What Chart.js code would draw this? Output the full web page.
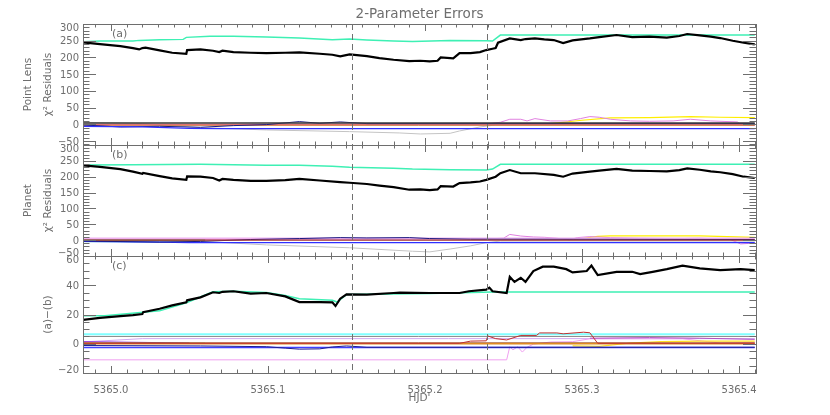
<!DOCTYPE html>
<html>
<head>
<meta charset="utf-8">
<script src="https://cdn.jsdelivr.net/npm/chart.js@4.4.0/dist/chart.umd.min.js"></script>
<style>
  html, body { margin: 0; padding: 0; background: #fff; }
  #wrap { width: 830px; height: 415px; }
</style>
</head>
<body>
<div id="wrap"><canvas id="chart" width="830" height="415"></canvas></div>
<script>
// x range (HJD') and the two vertical markers
const hjdRange = [5364.9822, 5365.4108]
const markerHJD = [5365.1535, 5365.2393]
const panelLabels = ["(a)", "(b)", "(c)"]
const hjdFull = [5364.982, 5365.410]

// --- panel (a): point lens residuals ---
const hjdBlackA = [5364.982, 5364.993, 5365.006, 5365.014, 5365.018, 5365.020, 5365.022, 5365.031, 5365.039, 5365.048, 5365.0485, 5365.057, 5365.065, 5365.069, 5365.071, 5365.078, 5365.089, 5365.099, 5365.111, 5365.120, 5365.133, 5365.141, 5365.146, 5365.152, 5365.163, 5365.171, 5365.180, 5365.190, 5365.197, 5365.203, 5365.208, 5365.210, 5365.218, 5365.222, 5365.229, 5365.235, 5365.239, 5365.243, 5365.245, 5365.2465, 5365.254, 5365.261, 5365.264, 5365.270, 5365.276, 5365.282, 5365.288, 5365.294, 5365.305, 5365.311, 5365.322, 5365.332, 5365.343, 5365.354, 5365.362, 5365.367, 5365.375, 5365.382, 5365.388, 5365.396, 5365.403, 5365.410]
const chiBlackA = [245, 240, 234, 228, 224, 228, 229, 221, 214, 211, 222, 224, 220, 216, 220, 216, 214, 213, 214, 215, 211, 208, 203, 209, 204, 198, 193, 189, 190, 188, 190, 200, 197, 213, 213, 216, 222, 226, 228, 244, 257, 252, 255, 257, 254, 252, 243, 251, 257, 261, 267, 261, 262, 259, 264, 270, 266, 262, 258, 250, 244, 239]
const hjdAquaA = [5364.982, 5364.993, 5365.014, 5365.018, 5365.031, 5365.046, 5365.048, 5365.063, 5365.078, 5365.099, 5365.120, 5365.141, 5365.152, 5365.163, 5365.180, 5365.192, 5365.216, 5365.239, 5365.243, 5365.248, 5365.410]
const chiAquaA = [247, 249, 249, 251, 253, 254, 260, 263, 263, 261, 258, 253, 255, 252, 249, 248, 251, 250, 249, 267, 267]
const darkA = [4, 4]
const redA = [-1, -1]
const orangeA = [-3, -3]
const hjdBlueA = [5364.982, 5365.020, 5365.050, 5365.070, 5365.410]
const blueA = [-6, -8, -12, -13, -13]
const hjdNavyA = [5364.982, 5365.006, 5365.031, 5365.057, 5365.078, 5365.099, 5365.120, 5365.133, 5365.146, 5365.163, 5365.410]
const navyA = [-2, -8, -6, -9, -4, -1, 8, 3, 7, 2, 2]
const hjdGreyA = [5364.982, 5365.020, 5365.057, 5365.099, 5365.152, 5365.184, 5365.197, 5365.216, 5365.222, 5365.235, 5365.245, 5365.410]
const greyA = [6, 2, -10, -17, -22, -26, -29, -27, -20, -8, -2, -2]
const hjdPinkA = [5364.982, 5365.200, 5365.239, 5365.248, 5365.254, 5365.261, 5365.265, 5365.270, 5365.280, 5365.291, 5365.299, 5365.305, 5365.311, 5365.318, 5365.331, 5365.343, 5365.358, 5365.369, 5365.382, 5365.399, 5365.401, 5365.410]
const pinkA = [-1, 0, 1, 6, 15, 15, 10, 17, 10, 10, 17, 23, 21, 15, 10, 9, 10, 15, 10, 7, -2, -3]
const hjdYellowA = [5365.280, 5365.300, 5365.318, 5365.343, 5365.369, 5365.388, 5365.410]
const yellowA = [2, 12, 19, 20, 23, 21, 20]

// --- panel (b): planet residuals ---
const hjdBlackB = [5364.982, 5364.993, 5365.006, 5365.014, 5365.020, 5365.0205, 5365.031, 5365.039, 5365.048, 5365.0485, 5365.057, 5365.065, 5365.069, 5365.071, 5365.078, 5365.089, 5365.099, 5365.111, 5365.120, 5365.133, 5365.146, 5365.152, 5365.163, 5365.171, 5365.180, 5365.190, 5365.197, 5365.203, 5365.208, 5365.210, 5365.218, 5365.222, 5365.229, 5365.235, 5365.239, 5365.245, 5365.248, 5365.254, 5365.261, 5365.270, 5365.282, 5365.288, 5365.294, 5365.305, 5365.311, 5365.322, 5365.332, 5365.343, 5365.354, 5365.362, 5365.367, 5365.375, 5365.382, 5365.388, 5365.396, 5365.403, 5365.410]
const chiBlackB = [236, 231, 224, 216, 209, 212, 202, 195, 190, 201, 200, 196, 188, 193, 190, 187, 187, 189, 193, 188, 183, 181, 177, 172, 167, 159, 160, 158, 160, 170, 169, 180, 182, 185, 190, 200, 211, 221, 211, 211, 206, 200, 210, 216, 219, 225, 219, 218, 217, 221, 226, 222, 217, 214, 208, 200, 196]
const hjdAquaB = [5364.982, 5365.014, 5365.057, 5365.099, 5365.120, 5365.141, 5365.152, 5365.180, 5365.192, 5365.216, 5365.239, 5365.243, 5365.248, 5365.410]
const chiAquaB = [237, 238, 239, 236, 236, 233, 230, 227, 224, 222, 221, 224, 239, 239]
const lavB = [5.5, 5.5]
const redB = [0, 0]
const hjdNavyB = [5364.982, 5365.031, 5365.057, 5365.089, 5365.120, 5365.146, 5365.163, 5365.190, 5365.203, 5365.229, 5365.410]
const navyB = [-3, -6, -4, 2, 5, 8, 7, 8, 5, 3, 2]
const hjdBlueB = [5364.982, 5365.031, 5365.050, 5365.410]
const blueB = [-4, -6, -8, -8]
const hjdGreyB = [5364.982, 5365.057, 5365.099, 5365.152, 5365.192, 5365.203, 5365.216, 5365.229, 5365.239, 5365.248, 5365.410]
const greyB = [3, -4, -15, -24, -35, -37, -28, -18, -8, -3, -3]
const hjdCyanB = [5364.982, 5365.057]
const cyanB = [-5, -7]
const hjdGreenB = [5364.982, 5365.060]
const greenB = [0, 0]
const hjdPinkB = [5364.982, 5365.239, 5365.250, 5365.254, 5365.261, 5365.269, 5365.276, 5365.284, 5365.292, 5365.297, 5365.305, 5365.318, 5365.337, 5365.362, 5365.375, 5365.394, 5365.401, 5365.410]
const pinkB = [2, 4, 6, 18, 13, 10, 9, 6, 1, 8, 11, 8, 6, 5, 6, 3, -12, -9]
const hjdYellowB = [5365.295, 5365.310, 5365.318, 5365.350, 5365.375, 5365.410]
const yellowB = [2, 12, 13.5, 13.5, 13.5, 9]

// --- panel (c): (a)-(b) ---
const hjdBlackC = [5364.982, 5364.993, 5365.006, 5365.014, 5365.020, 5365.0205, 5365.031, 5365.039, 5365.048, 5365.0485, 5365.057, 5365.065, 5365.069, 5365.071, 5365.078, 5365.089, 5365.099, 5365.111, 5365.120, 5365.133, 5365.141, 5365.143, 5365.146, 5365.150, 5365.163, 5365.180, 5365.184, 5365.203, 5365.222, 5365.228, 5365.239, 5365.241, 5365.243, 5365.252, 5365.254, 5365.257, 5365.261, 5365.264, 5365.269, 5365.275, 5365.282, 5365.290, 5365.294, 5365.303, 5365.306, 5365.310, 5365.322, 5365.332, 5365.337, 5365.345, 5365.354, 5365.364, 5365.375, 5365.388, 5365.401, 5365.410]
const chiBlackC = [16.3, 17.7, 18.9, 19.6, 20.3, 21.6, 23.9, 26.2, 28.3, 29.7, 31.7, 35.2, 34.7, 35.5, 35.9, 34.3, 34.7, 32.4, 28.5, 28.5, 28.3, 25.8, 30.8, 33.8, 33.6, 34.7, 35.0, 34.7, 34.7, 35.9, 37.0, 38.4, 35.9, 34.7, 45.8, 42.3, 45.1, 42.3, 49.7, 52.7, 52.7, 51.0, 48.8, 49.7, 53.4, 46.9, 49.2, 49.2, 47.6, 49.2, 51.0, 53.4, 51.5, 50.3, 51.0, 50.3]
const hjdAquaC = [5364.982, 5364.996, 5365.031, 5365.048, 5365.065, 5365.078, 5365.099, 5365.111, 5365.120, 5365.141, 5365.144, 5365.150, 5365.163, 5365.203, 5365.243, 5365.410]
const chiAquaC = [19.1, 19.1, 22.5, 28.0, 35.6, 35.9, 35.0, 33.0, 30.8, 29.7, 28.5, 33.6, 33.8, 34.4, 35.4, 35.4]
const cyanC = [6.5, 6.5]
const greyC = [5, 5]
const orangeC = [0, 0]
const brownC = [0.6, 0.6]
const blueC = [-2.6, -2.6]
const hjdLavC = [5364.982, 5365.020, 5365.410]
const lavC = [1.2, 3.5, 3.5]
const hjdPurpleC = [5364.982, 5365.050]
const purpleC = [1.5, 0.5]
const hjdGreenC = [5364.982, 5365.060]
const greenC = [0.3, 0.3]
const hjdRedC = [5364.982, 5365.222, 5365.229, 5365.239, 5365.240, 5365.245, 5365.252, 5365.261, 5365.271, 5365.273, 5365.284, 5365.288, 5365.301, 5365.305, 5365.310, 5365.410]
const redC = [0.3, 0.3, 1.8, 2.0, 5.3, 3.5, 2.6, 5.7, 5.7, 7.4, 7.4, 6.8, 7.9, 7.5, 0.3, 0.3]
const hjdPinkC = [5364.982, 5365.252, 5365.254, 5365.256, 5365.259, 5365.262, 5365.265, 5365.269, 5365.280, 5365.294, 5365.305, 5365.331, 5365.364, 5365.388, 5365.410]
const pinkC = [-11, -11, -2, -4.2, -2, -5.7, -2.4, -0.3, 1.2, 1.4, 3.4, 3.4, 3.4, 0.5, 1.0]
const hjdNavyC = [5364.982, 5365.057, 5365.099, 5365.111, 5365.120, 5365.133, 5365.141, 5365.150, 5365.163, 5365.410]
const navyC = [-1.2, -1.5, -2, -3, -3.7, -3.5, -2.2, -1.5, -2.4, -2.4]
const hjdVioletC = [5365.305, 5365.343, 5365.375, 5365.410]
const violetC = [3.8, 4.2, 3.8, 3.0]
const hjdYellowC = [5365.294, 5365.311, 5365.331, 5365.350, 5365.375, 5365.410]
const yellowC = [-1.5, -1.8, 0.5, 1.5, 1.8, 1.8]

const FONT = '"DejaVu Sans", sans-serif'
const INK = "#6e6e6e"
const AQUA = "#3ef0b4"

function series(xs, ys) {
  return xs.map((x, i) => ({ x: x, y: ys[i] }))
}

function line(axis, xs, ys, color, width) {
  return {
    yAxisID: axis,
    data: series(xs, ys),
    borderColor: color,
    borderWidth: width || 1,
    pointRadius: 0,
    fill: false
  }
}

// first dataset is painted on top
const datasets = [
  line("ya", hjdBlackA, chiBlackA, "#000", 2.2),
  line("yb", hjdBlackB, chiBlackB, "#000", 2.2),
  line("yc", hjdBlackC, chiBlackC, "#000", 2.2),
  line("ya", hjdAquaA, chiAquaA, AQUA, 1.5),
  line("yb", hjdAquaB, chiAquaB, AQUA, 1.5),
  line("yc", hjdAquaC, chiAquaC, AQUA, 1.5),

  line("ya", hjdFull, darkA, "#3a3a3a", 1.5),
  line("ya", hjdBlueA, blueA, "#3030ff", 1.2),
  line("ya", hjdNavyA, navyA, "#1a1a80", 1),
  line("ya", hjdFull, redA, "#e07070", 1.5),
  line("ya", hjdFull, orangeA, "#c8742a", 1),
  line("ya", hjdPinkA, pinkA, "#e080e0", 1),
  line("ya", hjdYellowA, yellowA, "#ffee00", 1.2),
  line("ya", hjdGreyA, greyA, "#c4c4c4", 1),

  line("yb", hjdFull, redB, "#a03030", 1.2),
  line("yb", hjdNavyB, navyB, "#1a1a80", 1),
  line("yb", hjdBlueB, blueB, "#3030ff", 1.2),
  line("yb", hjdGreenB, greenB, "#30a030", 1),
  line("yb", hjdCyanB, cyanB, "#80e0e0", 1),
  line("yb", hjdFull, lavB, "#f0b0f0", 2),
  line("yb", hjdPinkB, pinkB, "#e080e0", 1),
  line("yb", hjdYellowB, yellowB, "#ffee00", 1.2),
  line("yb", hjdGreyB, greyB, "#c4c4c4", 1),

  line("yc", hjdNavyC, navyC, "#202090", 1),
  line("yc", hjdFull, blueC, "#4040ff", 1.5),
  line("yc", hjdRedC, redC, "#c03030", 1),
  line("yc", hjdFull, orangeC, "#e08a20", 1.5),
  line("yc", hjdFull, brownC, "#a05020", 1),
  line("yc", hjdGreenC, greenC, "#40d040", 1),
  line("yc", hjdPurpleC, purpleC, "#9a40e0", 1),
  line("yc", hjdYellowC, yellowC, "#ffe020", 1.2),
  line("yc", hjdVioletC, violetC, "#b050c0", 1),
  line("yc", hjdPinkC, pinkC, "#f0a0f0", 1),
  line("yc", hjdLavC, lavC, "#d0a8f0", 1),
  line("yc", hjdFull, greyC, "#8a8a8a", 1),
  line("yc", hjdFull, cyanC, "#80ffff", 2)
]

const panels = [
  { id: "ya", major: 50, minor: 10, title: ["Point Lens", "\u03c7\u00b2 Residuals"] },
  { id: "yb", major: 50, minor: 10, title: ["Planet", "\u03c7\u00b2 Residuals"] },
  { id: "yc", major: 20, minor: 5, title: ["(a)\u2212(b)"] }
]

function fmt(v) {
  return v < 0 ? "\u2212" + Math.abs(v) : String(v)
}

// IDL-style frame: boxes, inward ticks, labels, dashed markers
const idlFrame = {
  id: "idlFrame",
  afterDraw(chart) {
    const ctx = chart.ctx
    const xs = chart.scales.x
    const left = xs.left, right = xs.right
    ctx.save()
    ctx.strokeStyle = INK
    ctx.fillStyle = INK
    ctx.lineWidth = 1

    panels.forEach((p, i) => {
      const s = chart.scales[p.id]
      const top = Math.round(s.top), bottom = Math.round(s.bottom)
      ctx.strokeRect(Math.round(left) + 0.5, top + 0.5, Math.round(right - left), bottom - top)

      ctx.beginPath()
      // x ticks on top and bottom edge
      for (let k = Math.ceil(xs.min * 100); k <= Math.floor(xs.max * 100); k++) {
        const px = Math.round(xs.getPixelForValue(k / 100)) + 0.5
        const len = k % 10 === 0 ? 7 : 3.5
        ctx.moveTo(px, bottom); ctx.lineTo(px, bottom - len)
        ctx.moveTo(px, top); ctx.lineTo(px, top + len)
      }
      // y ticks on left and right edge
      for (let v = Math.ceil(s.min / p.minor) * p.minor; v <= s.max + 1e-9; v += p.minor) {
        const py = Math.round(s.getPixelForValue(v)) + 0.5
        const len = Math.abs(v % p.major) < 1e-9 ? 13 : 6.5
        ctx.moveTo(left, py); ctx.lineTo(left + len, py)
        ctx.moveTo(right, py); ctx.lineTo(right - len, py)
      }
      ctx.stroke()

      // y tick labels, nudged inward at the panel edges
      ctx.font = "10px " + FONT
      ctx.textAlign = "right"
      ctx.textBaseline = "middle"
      for (let v = Math.ceil(s.min / p.major) * p.major; v <= s.max + 1e-9; v += p.major) {
        let py = s.getPixelForValue(v) + 1
        if (py - s.top < 4) py = s.top + 4
        if (s.bottom - py < 4) py = s.bottom - 3
        ctx.fillText(fmt(v), left - 4, py)
      }

      // panel letter
      ctx.font = "11px " + FONT
      ctx.textAlign = "left"
      ctx.fillText(panelLabels[i], 112, s.top + 10)

      // rotated axis titles
      ctx.font = "10.5px " + FONT
      ctx.textAlign = "center"
      const cy = (s.top + s.bottom) / 2
      const xsTitle = p.title.length === 2 ? [28, 48] : [48]
      p.title.forEach((t, j) => {
        ctx.save()
        ctx.translate(xsTitle[j], cy)
        ctx.rotate(-Math.PI / 2)
        ctx.fillText(t, 0, 0)
        ctx.restore()
      })
    })

    // dashed markers through all panels
    const yTop = chart.scales.ya.top, yBot = chart.scales.yc.bottom
    ctx.strokeStyle = "#707070"
    ctx.setLineDash([6, 4])
    ctx.beginPath()
    markerHJD.forEach(h => {
      const px = Math.round(xs.getPixelForValue(h)) + 0.5
      ctx.moveTo(px, yTop); ctx.lineTo(px, yBot)
    })
    ctx.stroke()
    ctx.setLineDash([])

    // title and x-axis name
    ctx.textAlign = "center"
    ctx.textBaseline = "middle"
    ctx.font = "13.5px " + FONT
    ctx.fillText("2-Parameter Errors", (left + right) / 2, 14)
    ctx.font = "10.5px " + FONT
    ctx.fillText("HJD'", (left + right) / 2, 398)
    ctx.restore()
  }
}

function yAxis(min, max, weight, stackWeight) {
  return {
    type: "linear",
    position: "left",
    stack: "panels",
    stackWeight: stackWeight,
    weight: weight,
    min: min,
    max: max,
    offset: false,
    grid: { display: false },
    border: { display: false },
    ticks: { display: false },
    afterFit: scale => { scale.width = 83 }
  }
}

new Chart(document.getElementById("chart"), {
  type: "line",
  data: { datasets: datasets },
  options: {
    responsive: false,
    devicePixelRatio: 1,
    animation: false,
    layout: { padding: { left: 0, right: 74, top: 24, bottom: 0 } },
    elements: { line: { tension: 0 }, point: { radius: 0 } },
    plugins: { legend: { display: false }, tooltip: { enabled: false } },
    scales: {
      x: {
        type: "linear",
        min: hjdRange[0],
        max: hjdRange[1],
        grid: { display: false },
        border: { display: false },
        ticks: {
          stepSize: 0.1,
          includeBounds: false,
          maxRotation: 0,
          padding: 3,
          color: INK,
          font: { family: FONT, size: 10 },
          callback: v => Number(v).toFixed(1)
        },
        afterFit: scale => { scale.height = 42 }
      },
      ya: yAxis(-62, 300, 3, 121),
      yb: yAxis(-50, 300, 2, 111),
      yc: yAxis(-20, 60, 1, 117)
    }
  },
  plugins: [idlFrame]
})
</script>
</body>
</html>
